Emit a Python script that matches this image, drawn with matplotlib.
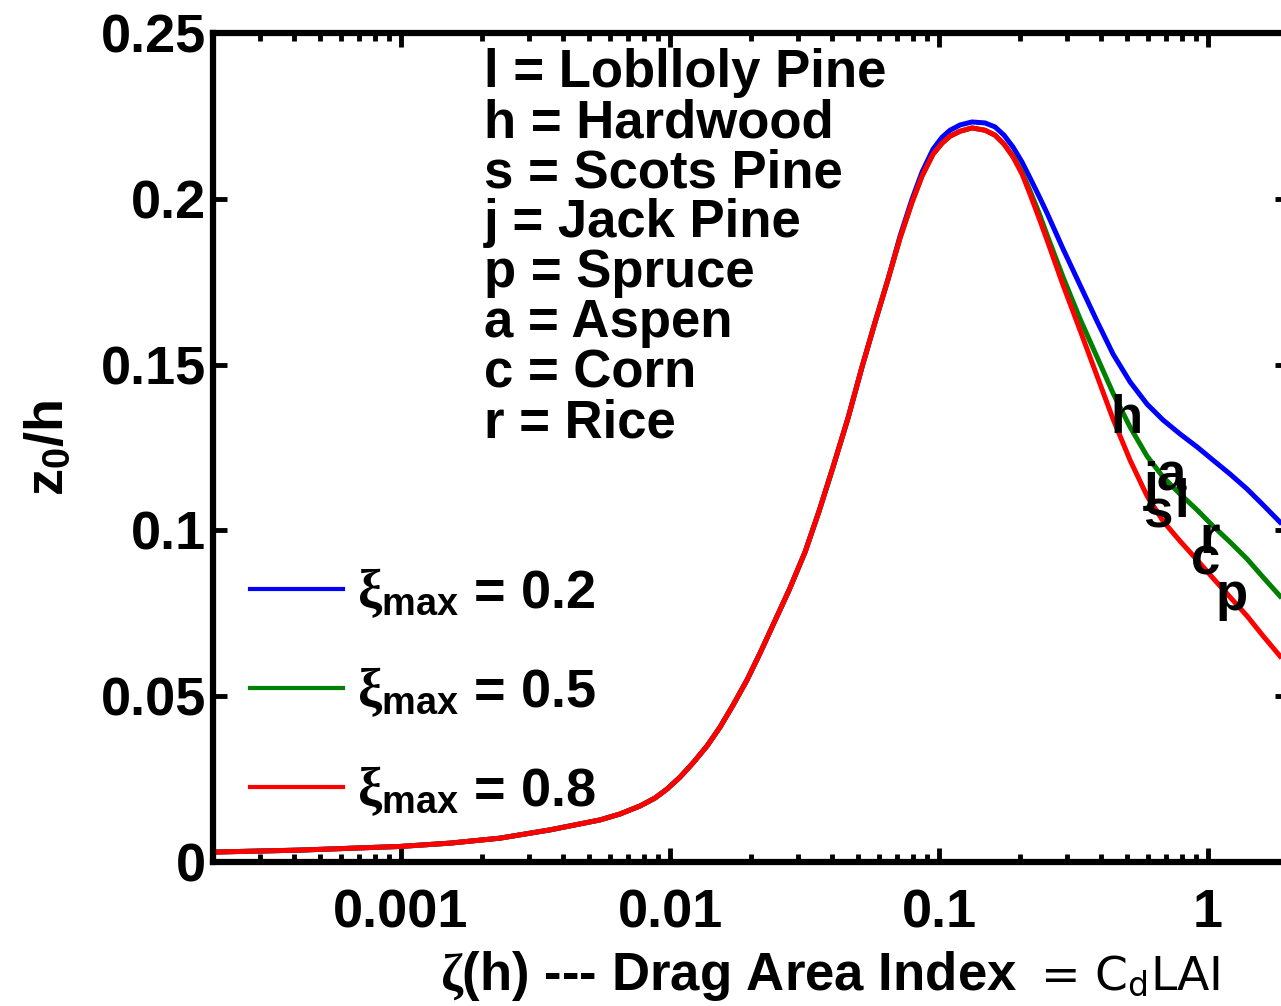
import numpy as np
from matplotlib import pyplot as plt
from matplotlib.lines import Line2D

plt.rcParams['font.family'] = 'Liberation Sans'
plt.rcParams['font.weight'] = 'bold'
plt.rcParams['axes.labelweight'] = 'bold'
plt.rcParams['mathtext.fontset'] = 'custom'
plt.rcParams['mathtext.rm'] = 'Liberation Serif'
plt.rcParams['mathtext.it'] = 'Liberation Serif:italic'
plt.rcParams['mathtext.bf'] = 'Liberation Sans:bold'

# drag area index (x) and z0/h for three xi_max values
zeta = [2.00e-4, 4.21e-4, 9.91e-4, 1.52e-3, 2.33e-3, 3.58e-3, 5.49e-3, 6.52e-3,
        7.73e-3, 8.79e-3, 9.74e-3, 0.01089, 0.01217, 0.01372, 0.01534, 0.01714,
        0.01932, 0.02160, 0.02414, 0.02769, 0.03176, 0.03579, 0.04034, 0.04587,
        0.05170, 0.05781, 0.06462, 0.07161, 0.07933, 0.08644, 0.09497, 0.1026,
        0.1098, 0.1197, 0.1326, 0.1482, 0.1615, 0.1744, 0.1884, 0.2034, 0.2179,
        0.2353, 0.2520, 0.2890, 0.3342, 0.3865, 0.4433, 0.5128, 0.5931, 0.6803,
        0.7865, 0.9099, 1.0435, 1.207, 1.396, 1.601, 1.851]
z_red = [0.0030, 0.0036, 0.0047, 0.0057, 0.0072, 0.0097, 0.0127, 0.0145, 0.0169,
         0.0193, 0.0220, 0.0256, 0.0299, 0.0350, 0.0407, 0.0473, 0.0549, 0.0630,
         0.0715, 0.0820, 0.0935, 0.1058, 0.1191, 0.1339, 0.1493, 0.1628, 0.1758,
         0.1882, 0.1990, 0.2069, 0.2135, 0.2168, 0.2189, 0.2204, 0.2214, 0.2207,
         0.2192, 0.2165, 0.2126, 0.2075, 0.2014, 0.1942, 0.1876, 0.1740, 0.1604,
         0.1466, 0.1336, 0.1212, 0.1104, 0.1028, 0.0968, 0.0911, 0.0856, 0.0799,
         0.0742, 0.0682, 0.0621]
z_green = [0.0030, 0.0036, 0.0047, 0.0057, 0.0072, 0.0097, 0.0127, 0.0145, 0.0169,
           0.0193, 0.0220, 0.0256, 0.0299, 0.0350, 0.0407, 0.0473, 0.0549, 0.0630,
           0.0715, 0.0820, 0.0935, 0.1058, 0.1191, 0.1339, 0.1493, 0.1628, 0.1758,
           0.1882, 0.1990, 0.2069, 0.2135, 0.2168, 0.2189, 0.2204, 0.2214, 0.2207,
           0.2192, 0.2165, 0.2129, 0.2081, 0.2024, 0.1957, 0.1891, 0.1764, 0.1638,
           0.1523, 0.1414, 0.1312, 0.1224, 0.1161, 0.1110, 0.1062, 0.1013, 0.0965,
           0.0914, 0.0859, 0.0802]
z_blue = [0.0030, 0.0036, 0.0047, 0.0057, 0.0072, 0.0097, 0.0127, 0.0145, 0.0169,
          0.0193, 0.0220, 0.0256, 0.0299, 0.0350, 0.0407, 0.0473, 0.0549, 0.0630,
          0.0715, 0.0820, 0.0935, 0.1058, 0.1191, 0.1339, 0.1493, 0.1628, 0.1758,
          0.1888, 0.1999, 0.2081, 0.2150, 0.2186, 0.2207, 0.2223, 0.2232, 0.2229,
          0.2217, 0.2192, 0.2156, 0.2111, 0.2063, 0.2008, 0.1957, 0.1849, 0.1740,
          0.1631, 0.1532, 0.1448, 0.1381, 0.1333, 0.1291, 0.1252, 0.1212, 0.1170,
          0.1125, 0.1077, 0.1025]
xi_max = ['0.2', '0.5', '0.8']

# canopy sites marked on the curves
site_letters = ['h', 'j', 'a', 'l', 's', 'r', 'c', 'p']
site_x = [0.499, 0.614, 0.728, 0.800, 0.652, 1.016, 0.975, 1.228]
site_y = [0.1294, 0.1092, 0.1122, 0.1040, 0.1010, 0.0932, 0.0866, 0.0760]
site_names = ['l = Loblloly Pine', 'h = Hardwood', 's = Scots Pine', 'j = Jack Pine',
              'p = Spruce', 'a = Aspen', 'c = Corn', 'r = Rice']

xticks = [0.001, 0.01, 0.1, 1]
xticklabels = ['0.001', '0.01', '0.1', '1']
yticks = [0, 0.05, 0.1, 0.15, 0.2, 0.25]
yticklabels = ['0', '0.05', '0.1', '0.15', '0.2', '0.25']

fig = plt.figure(figsize=(12.81, 10.06), dpi=100)
ax = fig.add_axes([0.1663, 0.1431, 0.840, 0.824])

lw = 3.6
ax.plot(zeta, z_blue, color='#0000ff', lw=lw)
ax.plot(zeta, z_green, color='#008000', lw=lw)
ax.plot(zeta, z_red, color='#ff0000', lw=lw)

ax.set_xscale('log')
ax.set_xlim(2e-4, 2)
ax.set_ylim(0, 0.25)
ax.set_xticks(xticks)
ax.set_xticklabels(xticklabels)
ax.set_yticks(yticks)
ax.set_yticklabels(yticklabels)

for sp in ax.spines.values():
    sp.set_linewidth(4.5)
ax.tick_params(which='both', direction='in', top=True, right=True, width=3.5,
               labelsize=39)
ax.tick_params(which='major', length=10)
ax.tick_params(which='minor', length=6)
ax.tick_params(axis='x', pad=19)
ax.tick_params(axis='y', pad=5)

for t, x, y in zip(site_letters, site_x, site_y):
    ax.text(x, y, t, fontsize=38, ha='center', va='baseline')

for i, name in enumerate(site_names):
    ax.text(0.2519, (862 - (87 + 50 * i)) / 829, name, transform=ax.transAxes,
            fontsize=38, ha='left', va='baseline')

handles = [Line2D([], [], color=c, lw=3) for c in ['#0000ff', '#008000', '#ff0000']]
labels = [r'$\mathrm{\xi}_{\mathbf{max}}$ = ' + v for v in xi_max]
ax.legend(handles, labels, loc='center left', bbox_to_anchor=(0.034, 0.205),
          frameon=False, fontsize=39, handlelength=1.72, handletextpad=0.26,
          labelspacing=0.84, borderpad=0, borderaxespad=0)

ax.set_xlabel(r'$\mathrm{\zeta}$(h) --- Drag Area Index', fontsize=38,
              ha='left', va='baseline')
ax.xaxis.set_label_coords(0.211, -0.1544)
ax.text(0.7686, -0.1544, r'= C$_\mathregular{d}$LAI', transform=ax.transAxes,
        family='DejaVu Sans', fontweight='normal', fontsize=34,
        ha='left', va='baseline')
ax.set_ylabel(r'z$_\mathbf{0}$/h', fontsize=39, va='center')
ax.yaxis.set_label_coords(-0.153, 0.5)

plt.savefig('out.png', dpi=100)
